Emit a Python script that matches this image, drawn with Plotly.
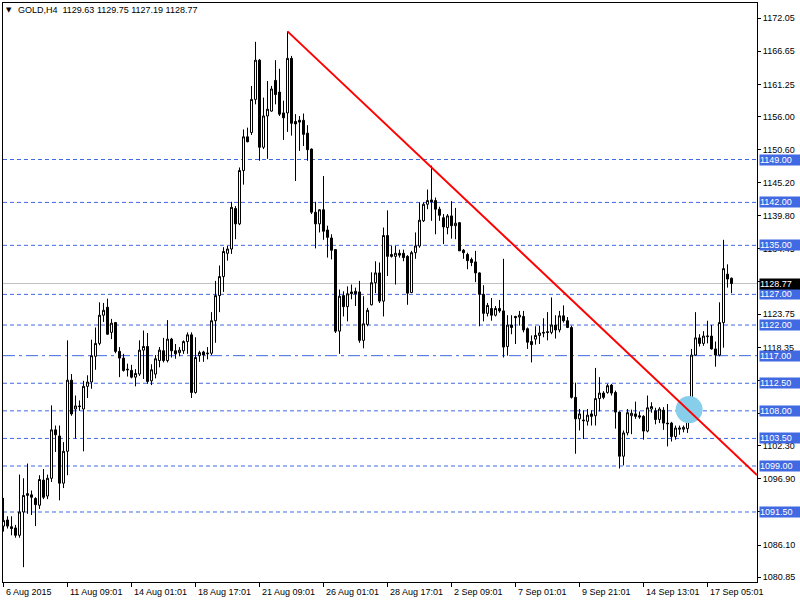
import plotly.graph_objects as go

# ---------------- data ----------------
open_ = [1089.2, 1090.2, 1089.1, 1088.9, 1087.7, 1091.5, 1094.2, 1094.3, 1093.7, 1092.6,
         1096.7, 1094.1, 1097.0, 1104.9, 1103.9, 1096.2, 1101.4, 1113.0, 1108.3, 1108.8,
         1108.3, 1112.0, 1112.7, 1116.9, 1119.0, 1123.6, 1124.9, 1120.8, 1122.4, 1117.7,
         1116.6, 1114.8, 1114.6, 1113.5, 1114.0, 1117.9, 1118.5, 1112.9, 1114.0, 1116.2,
         1117.8, 1116.2, 1119.7, 1117.8, 1117.5, 1117.8, 1119.3, 1120.4, 1111.0, 1117.0,
         1117.6, 1117.3, 1117.4, 1122.7, 1126.8, 1129.9, 1133.7, 1134.4, 1141.0, 1138.5,
         1147.2, 1152.7, 1153.4, 1158.8, 1165.2, 1151.0, 1156.1, 1156.9, 1161.9, 1160.0,
         1156.6, 1156.6, 1165.5, 1155.2, 1155.4, 1155.4, 1153.3, 1150.7, 1140.4, 1138.5,
         1140.8, 1137.5, 1136.2, 1134.3, 1121.0, 1126.8, 1125.0, 1127.4, 1127.5, 1127.4,
         1119.5, 1122.1, 1125.3, 1128.9, 1130.5, 1125.9, 1136.6, 1133.5, 1133.2, 1133.7,
         1133.7, 1133.2, 1127.3, 1133.8, 1134.9, 1139.0, 1141.7, 1142.4, 1142.3, 1140.9,
         1139.5, 1137.9, 1139.8, 1138.2, 1138.7, 1134.2, 1133.5, 1132.7, 1132.3, 1130.5,
         1127.0, 1123.9, 1124.7, 1123.6, 1124.7, 1124.3, 1118.5, 1122.0, 1123.4, 1123.3,
         1123.4, 1121.4, 1119.3, 1119.7, 1120.3, 1120.8, 1120.9, 1120.8, 1122.0, 1121.2,
         1123.5, 1122.7, 1121.6, 1110.2, 1106.7, 1106.5, 1106.3, 1107.5, 1107.2, 1110.0,
         1110.9, 1111.0, 1112.2, 1111.0, 1107.8, 1100.6, 1104.4, 1107.2, 1107.5, 1107.2,
         1107.1, 1104.7, 1108.3, 1108.0, 1106.6, 1108.1, 1106.0, 1106.0, 1103.8, 1105.0,
         1105.0, 1105.1, 1108.3, 1117.1, 1119.9, 1119.0, 1120.1, 1120.2, 1118.1, 1117.1,
         1122.4, 1130.3, 1129.63]
high = [1093.8, 1090.8, 1090.8, 1089.4, 1097.6, 1097.0, 1099.4, 1095.0, 1093.9, 1097.5,
        1098.5, 1097.6, 1108.9, 1105.6, 1105.6, 1102.9, 1119.5, 1114.0, 1110.5, 1109.7,
        1112.9, 1113.8, 1119.6, 1121.6, 1125.7, 1125.6, 1126.3, 1123.0, 1122.5, 1118.4,
        1117.3, 1115.7, 1115.5, 1114.8, 1119.5, 1121.1, 1120.7, 1115.6, 1117.1, 1118.4,
        1119.9, 1122.8, 1119.9, 1118.9, 1118.4, 1119.5, 1120.8, 1120.8, 1120.0, 1117.8,
        1117.8, 1118.4, 1124.1, 1129.2, 1131.7, 1134.7, 1134.9, 1142.1, 1141.4, 1147.7,
        1153.9, 1154.2, 1161.0, 1168.2, 1165.4, 1159.1, 1161.8, 1161.0, 1165.2, 1163.8,
        1158.6, 1169.9, 1165.9, 1156.4, 1156.1, 1156.5, 1154.6, 1150.8, 1142.1, 1140.9,
        1146.3, 1138.2, 1136.8, 1134.4, 1127.8, 1127.5, 1128.3, 1128.6, 1128.1, 1129.2,
        1126.7, 1124.8, 1130.6, 1132.4, 1132.2, 1137.9, 1140.7, 1134.9, 1134.9, 1134.3,
        1134.3, 1133.4, 1134.1, 1137.1, 1142.0, 1142.0, 1144.1, 1148.0, 1142.8, 1141.3,
        1140.1, 1140.1, 1142.2, 1141.1, 1138.8, 1134.4, 1133.8, 1133.0, 1134.1, 1130.6,
        1128.5, 1125.6, 1126.4, 1125.1, 1126.1, 1132.8, 1123.6, 1123.6, 1123.5, 1124.3,
        1124.3, 1121.6, 1120.3, 1121.8, 1121.9, 1123.1, 1124.1, 1126.5, 1123.6, 1124.3,
        1125.2, 1123.3, 1121.9, 1112.6, 1108.3, 1108.1, 1108.3, 1108.1, 1115.0, 1113.5,
        1111.2, 1112.4, 1112.4, 1111.3, 1107.9, 1104.8, 1108.3, 1108.2, 1109.5, 1107.9,
        1107.3, 1110.5, 1109.4, 1108.5, 1108.6, 1108.6, 1109.1, 1106.2, 1105.6, 1105.6,
        1105.6, 1109.9, 1118.1, 1124.1, 1120.5, 1121.0, 1122.7, 1122.0, 1119.3, 1125.7,
        1135.9, 1131.9, 1129.75]
low = [1088.3, 1088.8, 1087.7, 1087.3, 1087.3, 1082.5, 1091.2, 1091.0, 1089.2, 1092.0,
       1093.6, 1093.6, 1096.4, 1101.3, 1093.4, 1095.4, 1097.5, 1107.2, 1103.5, 1108.0,
       1101.4, 1110.1, 1111.6, 1114.7, 1118.7, 1122.5, 1120.4, 1119.7, 1117.4, 1113.5,
       1114.4, 1113.6, 1113.3, 1112.0, 1113.7, 1113.2, 1112.4, 1112.2, 1113.3, 1115.1,
       1115.9, 1115.9, 1116.7, 1116.5, 1116.9, 1117.3, 1117.3, 1110.1, 1110.8, 1116.0,
       1116.0, 1116.4, 1117.1, 1119.1, 1124.1, 1127.4, 1132.5, 1133.6, 1136.0, 1138.3,
       1144.9, 1151.8, 1153.0, 1158.0, 1148.8, 1150.7, 1149.1, 1156.8, 1158.0, 1156.1,
       1152.2, 1153.5, 1152.9, 1145.5, 1150.4, 1151.2, 1148.8, 1140.1, 1134.5, 1137.1,
       1135.9, 1133.0, 1132.7, 1120.7, 1117.3, 1123.4, 1122.6, 1126.2, 1125.1, 1119.1,
       1118.2, 1121.8, 1125.2, 1127.2, 1125.6, 1123.4, 1130.0, 1133.0, 1128.6, 1133.0,
       1132.4, 1125.3, 1127.2, 1132.8, 1134.6, 1138.8, 1140.9, 1139.0, 1136.8, 1139.0,
       1135.2, 1136.8, 1136.1, 1136.0, 1134.1, 1132.8, 1131.1, 1131.6, 1129.0, 1121.8,
       1122.6, 1123.4, 1122.7, 1123.4, 1124.0, 1116.7, 1117.0, 1120.5, 1118.9, 1121.9,
       1120.8, 1118.1, 1115.9, 1118.8, 1118.9, 1120.0, 1119.5, 1120.5, 1119.8, 1120.8,
       1122.4, 1121.5, 1110.0, 1101.0, 1104.8, 1103.4, 1105.6, 1105.6, 1105.6, 1107.9,
       1109.9, 1110.8, 1110.5, 1105.1, 1098.6, 1099.1, 1104.0, 1104.2, 1106.7, 1106.7,
       1103.3, 1104.5, 1107.7, 1105.8, 1106.0, 1104.9, 1102.2, 1103.0, 1103.3, 1104.1,
       1104.5, 1104.4, 1107.2, 1117.0, 1118.5, 1118.6, 1119.0, 1118.0, 1115.2, 1116.9,
       1118.3, 1128.1, 1127.19]
close = [1090.1, 1089.2, 1088.8, 1087.7, 1091.5, 1094.2, 1094.5, 1093.9, 1092.7, 1096.8,
         1093.9, 1097.0, 1104.9, 1104.1, 1096.2, 1101.4, 1113.0, 1107.5, 1108.8, 1108.7,
         1112.0, 1112.7, 1117.0, 1119.0, 1123.6, 1124.4, 1120.5, 1122.3, 1117.7, 1116.6,
         1114.6, 1114.7, 1113.5, 1114.1, 1117.9, 1118.5, 1112.8, 1114.7, 1116.5, 1117.9,
         1116.2, 1119.7, 1117.8, 1117.3, 1117.9, 1119.3, 1120.4, 1111.0, 1116.7, 1117.5,
         1117.1, 1117.4, 1122.7, 1126.8, 1129.9, 1134.0, 1134.4, 1141.2, 1138.5, 1147.2,
         1152.7, 1151.9, 1158.8, 1165.2, 1151.0, 1156.1, 1157.2, 1160.5, 1159.6, 1156.4,
         1155.8, 1165.5, 1154.9, 1154.8, 1155.1, 1153.1, 1150.6, 1140.4, 1138.5, 1140.8,
         1137.3, 1136.3, 1134.2, 1121.0, 1126.7, 1125.0, 1127.1, 1127.1, 1127.1, 1119.5,
         1122.2, 1124.4, 1128.9, 1130.5, 1125.9, 1136.6, 1133.2, 1133.2, 1133.7, 1133.4,
         1133.0, 1127.2, 1133.8, 1134.9, 1139.1, 1141.7, 1142.3, 1142.1, 1140.9, 1139.9,
         1138.0, 1139.8, 1138.2, 1138.6, 1134.1, 1133.8, 1132.5, 1132.2, 1130.5, 1127.0,
         1123.9, 1125.2, 1123.6, 1124.7, 1124.3, 1118.4, 1122.0, 1121.6, 1123.2, 1123.6,
         1121.2, 1119.2, 1118.8, 1120.3, 1120.7, 1120.7, 1120.8, 1122.0, 1121.2, 1123.5,
         1122.7, 1121.6, 1110.2, 1106.7, 1107.5, 1106.4, 1107.3, 1107.1, 1110.0, 1110.9,
         1110.2, 1112.1, 1110.9, 1107.8, 1100.6, 1104.4, 1107.7, 1107.6, 1107.1, 1107.0,
         1104.7, 1108.5, 1108.7, 1106.6, 1108.3, 1106.0, 1105.9, 1103.8, 1105.2, 1105.2,
         1105.3, 1108.3, 1117.1, 1119.9, 1119.0, 1120.2, 1120.2, 1118.1, 1117.1, 1122.4,
         1131.2, 1129.5, 1128.77]

tick_bars = [0, 16, 32, 48, 64, 80, 96, 112, 128, 144, 160, 176]
tick_labels = ["6 Aug 2015", "11 Aug 09:01", "14 Aug 01:01", "18 Aug 17:01",
               "21 Aug 09:01", "26 Aug 01:01", "28 Aug 17:01", "2 Sep 09:01",
               "7 Sep 01:01", "9 Sep 21:01", "14 Sep 13:01", "17 Sep 05:01"]
price_ticks = [1172.05, 1166.65, 1161.25, 1156.00, 1150.60, 1145.20, 1139.80, 1134.45,
               1129.05, 1123.75, 1118.35, 1112.95, 1107.60, 1102.30, 1096.90, 1091.50,
               1086.10, 1080.85]
dashed_levels = [1149.00, 1142.00, 1135.00, 1127.00, 1122.00, 1112.50, 1108.00, 1103.50,
                 1099.00, 1091.50]
dashdot_level = 1117.00
bid_price = 1128.77
trend_x = [71, 188.375]
trend_y = [1169.9, 1097.53]
circle_x = [171.4]
circle_y = [1108.2]
title_text = "GOLD,H4\u00a0\u00a01129.63 1129.75 1127.19 1128.77"

FONT = "Liberation Sans, Arial, sans-serif"
BLUE = "#4169E1"
bars = list(range(len(close)))

fig = go.Figure()
fig.add_trace(go.Scatter(x=circle_x, y=circle_y, mode="markers",
                         marker=dict(size=27, color="#87CEEB", line=dict(width=0)),
                         hoverinfo="skip", showlegend=False))
fig.add_trace(go.Candlestick(
    x=bars, open=open_, high=high, low=low, close=close,
    increasing=dict(fillcolor="white", line=dict(color="black", width=1)),
    decreasing=dict(fillcolor="black", line=dict(color="black", width=1)),
    whiskerwidth=0, showlegend=False, hoverinfo="skip"))
fig.add_trace(go.Scatter(x=trend_x, y=trend_y, mode="lines",
                         line=dict(color="#FF0000", width=2),
                         hoverinfo="skip", showlegend=False))

shapes = []
for lv in dashed_levels:
    shapes.append(dict(type="line", xref="paper", x0=0, x1=1, yref="y", y0=lv, y1=lv,
                       line=dict(color=BLUE, width=1, dash="4px,3px"), layer="below"))
shapes.append(dict(type="line", xref="paper", x0=0, x1=1, yref="y", y0=dashdot_level,
                   y1=dashdot_level, line=dict(color=BLUE, width=1, dash="12px,4px,3px,4px"),
                   layer="below"))
shapes.append(dict(type="line", xref="paper", x0=0, x1=1, yref="y", y0=bid_price, y1=bid_price,
                   line=dict(color="#C0C0C0", width=1), layer="below"))

annotations = []
for lv in dashed_levels + [dashdot_level]:
    annotations.append(dict(xref="paper", x=1, xanchor="left", xshift=2, yref="y", y=lv,
                            yanchor="middle", text=f"{lv:.2f}", showarrow=False,
                            font=dict(family=FONT, size=9, color="white"),
                            bgcolor=BLUE, width=42, height=10, align="left", borderpad=0))
annotations.append(dict(xref="paper", x=1, xanchor="left", xshift=2, yref="y", y=bid_price,
                        yanchor="middle", text=f"{bid_price:.2f}", showarrow=False,
                        font=dict(family=FONT, size=9, color="white"),
                        bgcolor="black", width=42, height=10, align="left", borderpad=0))
for b, t in zip(tick_bars, tick_labels):
    annotations.append(dict(xref="x", x=b, xanchor="left", xshift=0, yref="paper", y=0,
                            yanchor="top", yshift=-3, text=t, showarrow=False,
                            font=dict(family=FONT, size=9, color="black")))
annotations.append(dict(xref="paper", x=0, xanchor="left", xshift=1, yref="paper", y=1,
                        yanchor="top", yshift=-1, text="\u25bc", showarrow=False,
                        font=dict(family="DejaVu Sans", size=7, color="black")))
annotations.append(dict(xref="paper", x=0, xanchor="left", xshift=13, yref="paper", y=1,
                        yanchor="top", yshift=0, text=title_text, showarrow=False,
                        font=dict(family=FONT, size=9, color="black")))

fig.update_layout(
    width=800, height=600,
    margin=dict(l=3, r=43, t=3, b=18),
    paper_bgcolor="white", plot_bgcolor="white",
    showlegend=False, boxgap=0.5, boxgroupgap=0,
    shapes=shapes, annotations=annotations,
    xaxis=dict(range=[-0.125, 188.375], showgrid=False, zeroline=False, showline=True,
               linecolor="black", linewidth=1, mirror=True, ticks="outside",
               tickvals=tick_bars, ticklen=4, tickcolor="black", showticklabels=False,
               rangeslider=dict(visible=False), fixedrange=True),
    yaxis=dict(range=[1080.08, 1174.53], side="right", showgrid=False, zeroline=False,
               showline=True, linecolor="black", linewidth=1, mirror=True,
               ticks="outside", ticklen=3, tickcolor="black",
               tickvals=price_ticks, ticktext=[f"{v:.2f}" for v in price_ticks],
               tickfont=dict(family=FONT, size=9, color="black"), fixedrange=True),
)

fig.write_html("out.html", config={"displayModeBar": False},
               post_script="document.body.style.margin='0';document.body.style.padding='0';")
